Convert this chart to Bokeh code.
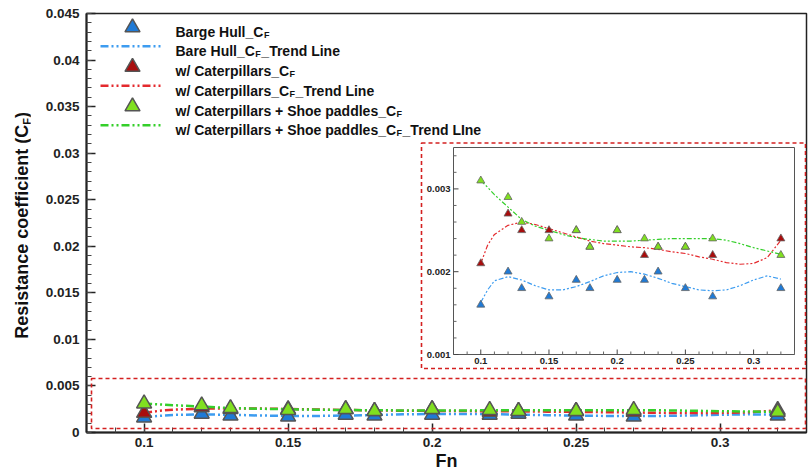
from bokeh.plotting import figure
from bokeh.layouts import row
from bokeh.models import Range1d, SingleIntervalTicker, CustomJSTickFormatter, BoxAnnotation, Div
from bokeh.core.properties import value
from bokeh.embed import file_html
from bokeh.resources import INLINE

# ---------------- data ----------------
fn = [0.10, 0.12, 0.13, 0.15, 0.17, 0.18, 0.20, 0.22, 0.23, 0.25, 0.27, 0.32]
cf_bare = [0.0016, 0.0020, 0.0018, 0.0017, 0.0019, 0.0018, 0.0019, 0.0019, 0.0020, 0.0018, 0.0017, 0.0018]
cf_cat = [0.0021, 0.0027, 0.0025, 0.0025, 0.0025, 0.0023, 0.0025, 0.0022, 0.0023, 0.0023, 0.0022, 0.0024]
cf_shoe = [0.0031, 0.0029, 0.0026, 0.0024, 0.0025, 0.0023, 0.0025, 0.0024, 0.0023, 0.0023, 0.0024, 0.0022]

trend_fn = [0.10, 0.105, 0.11, 0.12, 0.13, 0.14, 0.15, 0.16, 0.17, 0.18, 0.19, 0.20,
            0.21, 0.22, 0.23, 0.24, 0.25, 0.26, 0.27, 0.28, 0.29, 0.30, 0.31, 0.32]
trend_bare = [0.00163, 0.00178, 0.00189, 0.00194, 0.00190, 0.00183, 0.00178, 0.00178, 0.00182, 0.00188,
              0.00195, 0.00199, 0.00200, 0.00197, 0.00192, 0.00186, 0.00182, 0.00178, 0.00177, 0.00178,
              0.00183, 0.00190, 0.00195, 0.00191]
trend_cat = [0.00210, 0.00232, 0.00245, 0.00256, 0.00260, 0.00257, 0.00252, 0.00247, 0.00242, 0.00237,
             0.00234, 0.00232, 0.00230, 0.00229, 0.00227, 0.00224, 0.00222, 0.00218, 0.00215, 0.00211,
             0.00209, 0.00210, 0.00217, 0.00238]
trend_shoe = [0.00310, 0.00302, 0.00293, 0.00278, 0.00263, 0.00255, 0.00250, 0.00245, 0.00241, 0.00239,
              0.00237, 0.00237, 0.00237, 0.00238, 0.00239, 0.00240, 0.00240, 0.00240, 0.00240, 0.00238,
              0.00234, 0.00229, 0.00225, 0.00221]

legend_rows = [("Barge Hull_C", ""),
               ("Bare Hull_C", "_Trend Line"),
               ("w/ Caterpillars_C", ""),
               ("w/ Caterpillars_C", "_Trend Line"),
               ("w/ Caterpillars + Shoe paddles_C", ""),
               ("w/ Caterpillars + Shoe paddles_C", "_Trend LIne")]

inset_yticks = [0.001, 0.002, 0.003]
inset_ylabels = ["0.001", "0.002", "0.003"]
inset_xticks = [0.1, 0.15, 0.2, 0.25, 0.3]
inset_xlabels = ["0.1", "0.15", "0.2", "0.25", "0.3"]

# ---------------- styles ----------------
FONT = "Liberation Sans"
C_BLUE_M, C_RED_M, C_GREEN_M = "#1f7ad6", "#a80d0d", "#80e020"
C_BLUE_L, C_RED_L, C_GREEN_L = "#3d9cf0", "#e42a2e", "#34cf2a"
EDGE = "#555555"
DASH = "8 3 2 3 2 3"
DASH_IN = "5 2 2 2 2 2"

# Arial/Liberation Sans Bold advance widths (1/1000 em)
AW = {' ': 278, '/': 278, '+': 584, '_': 556, '(': 333, ')': 333, '.': 278,
      'A': 722, 'B': 722, 'C': 722, 'F': 611, 'H': 722, 'I': 278, 'L': 611, 'S': 667, 'T': 611,
      'a': 556, 'c': 556, 'd': 611, 'e': 556, 'g': 611, 'h': 611, 'i': 278, 'l': 278,
      'n': 611, 'o': 611, 'p': 611, 'r': 389, 's': 556, 't': 333, 'u': 611, 'w': 778}


def tw(s, size):
    return sum(AW.get(ch, 556) for ch in s) * size / 1000.0


# frame geometry (page pixels) and mapping helpers
LABEL_W = 30
X0, X1, Y0, Y1 = 0.08, 0.33, 0.0, 0.045
FL, FR, FT, FB = 86, 806, 13, 432


def dx(sx):
    return X0 + (sx - FL) * (X1 - X0) / (FR - FL)


def dy(sy):
    return Y0 + (FB - sy) * (Y1 - Y0) / (FB - FT)


# inset geometry
IX0, IX1, IY0, IY1 = 0.08, 0.33, 0.001, 0.0035
IL, IR, IT, IB = 453, 794, 147, 354
ixpp = (IX1 - IX0) / (IR - IL)
iypp = (IY1 - IY0) / (IB - IT)

p = figure(width=808 - LABEL_W, height=475, x_range=Range1d(X0, X1), y_range=Range1d(Y0, Y1),
           output_backend="svg", toolbar_location=None,
           min_border_left=FL - LABEL_W, min_border_right=808 - FR, min_border_top=FT,
           min_border_bottom=475 - FB)
p.extra_x_ranges = {"ix": Range1d(IX0 - (IL - FL) * ixpp, IX1 + (FR - IR) * ixpp)}
p.extra_y_ranges = {"iy": Range1d(IY0 - (FB - IB) * iypp, IY1 + (IT - FT) * iypp)}
p.grid.visible = False
p.outline_line_color = "#222222"
p.outline_line_width = 1.5
p.background_fill_color = "white"
p.border_fill_color = "white"

fmt = CustomJSTickFormatter(code=r"return tick.toFixed(3).replace(/0+$/,'').replace(/\.$/,'');")
p.xaxis.ticker = SingleIntervalTicker(interval=0.05, num_minor_ticks=5)
p.yaxis.ticker = SingleIntervalTicker(interval=0.005, num_minor_ticks=5)
for ax in (p.xaxis[0], p.yaxis[0]):
    ax.formatter = fmt
    ax.major_tick_in = 9
    ax.major_tick_out = 0
    ax.minor_tick_in = 5
    ax.minor_tick_out = 0
    ax.axis_line_width = 2
    ax.axis_line_color = "#222222"
    ax.major_tick_line_color = "#222222"
    ax.major_tick_line_width = 1.5
    ax.minor_tick_line_color = "#444444"
    ax.major_label_text_font = FONT
    ax.major_label_text_font_style = "bold"
    ax.major_label_text_font_size = "13.5px"
    ax.major_label_text_color = "#222222"
p.xaxis.major_label_standoff = 5
p.yaxis.major_label_standoff = 7
p.xaxis.axis_label = "Fn"
p.xaxis.axis_label_text_font = FONT
p.xaxis.axis_label_text_font_style = "bold"
p.xaxis.axis_label_text_font_size = "18px"
p.xaxis.axis_label_text_color = "#111111"
p.xaxis.axis_label_standoff = 1

# ---------------- main plot ----------------
for ty, col in ((trend_bare, C_BLUE_L), (trend_cat, C_RED_L), (trend_shoe, C_GREEN_L)):
    p.line(trend_fn, ty, line_color=col, line_width=2.5, line_dash=DASH)
for cy, col in ((cf_bare, C_BLUE_M), (cf_cat, C_RED_M), (cf_shoe, C_GREEN_M)):
    p.scatter(fn, cy, marker="triangle", size=15, fill_color=col, line_color=EDGE, line_width=1.5)

# ---------------- legend ----------------
row_base = [31 + i * 19.75 for i in range(6)]
for i, (before, after) in enumerate(legend_rows):
    yb = row_base[i]
    if i % 2 == 0:
        col = [C_BLUE_M, C_RED_M, C_GREEN_M][i // 2]
        p.scatter([dx(132)], [dy(yb - 4)], marker="triangle", size=15, fill_color=col,
                  line_color=EDGE, line_width=1.5)
    else:
        col = [C_BLUE_L, C_RED_L, C_GREEN_L][i // 2]
        p.line([dx(100), dx(163)], [dy(yb - 5)] * 2, line_color=col, line_width=2.5, line_dash=DASH)
    x_sub = 175 + tw(before, 14) + 0.5
    p.text([dx(175)], [dy(yb)], text=[before], text_font=value(FONT), text_font_style="bold",
           text_font_size="14px", text_color="#111111", text_baseline="alphabetic", text_align="left")
    p.text([dx(x_sub)], [dy(yb + 3)], text=["F"], text_font=value(FONT), text_font_style="bold",
           text_font_size="9px", text_color="#111111", text_baseline="alphabetic", text_align="left")
    if after:
        p.text([dx(x_sub + tw("F", 9) + 0.5)], [dy(yb)], text=[after], text_font=value(FONT),
               text_font_style="bold", text_font_size="14px", text_color="#111111",
               text_baseline="alphabetic", text_align="left")

# ---------------- inset ----------------
p.quad(left=[IX0], right=[IX1], bottom=[IY0], top=[IY1], x_range_name="ix", y_range_name="iy",
       fill_color="white", line_color="#555555", line_width=1)

mx, my = [], []
for k in range(9, 34):
    v = k / 100.0
    if all(abs(v - t) > 1e-9 for t in inset_xticks):
        mx.append(v)
for k in range(5, 18):
    v = k * 0.0002
    if all(abs(v - t) > 1e-9 for t in inset_yticks) and IY0 < v < IY1:
        my.append(v)
p.segment(x0=inset_xticks, y0=[IY0] * len(inset_xticks), x1=inset_xticks,
          y1=[IY0 + 5 * iypp] * len(inset_xticks), x_range_name="ix", y_range_name="iy",
          line_color="#444444", line_width=1)
p.segment(x0=mx, y0=[IY0] * len(mx), x1=mx, y1=[IY0 + 3 * iypp] * len(mx),
          x_range_name="ix", y_range_name="iy", line_color="#666666", line_width=1)
p.segment(x0=[IX0] * len(inset_yticks), y0=inset_yticks, x1=[IX0 + 5 * ixpp] * len(inset_yticks),
          y1=inset_yticks, x_range_name="ix", y_range_name="iy", line_color="#444444", line_width=1)
p.segment(x0=[IX0] * len(my), y0=my, x1=[IX0 + 3 * ixpp] * len(my), y1=my,
          x_range_name="ix", y_range_name="iy", line_color="#666666", line_width=1)
p.text([IX0 - 3 * ixpp] * len(inset_yticks), inset_yticks, text=inset_ylabels,
       x_range_name="ix", y_range_name="iy", text_font=value(FONT), text_font_style="bold",
       text_font_size="9.5px", text_color="#222222", text_align="right", text_baseline="middle")
p.text(inset_xticks, [IY0 - 3 * iypp] * len(inset_xticks), text=inset_xlabels,
       x_range_name="ix", y_range_name="iy", text_font=value(FONT), text_font_style="bold",
       text_font_size="9.5px", text_color="#222222", text_align="center", text_baseline="top")

for ty, col in ((trend_bare, C_BLUE_L), (trend_cat, C_RED_L), (trend_shoe, C_GREEN_L)):
    p.line(trend_fn, ty, x_range_name="ix", y_range_name="iy", line_color=col,
           line_width=1.2, line_dash=DASH_IN)
for cy, col in ((cf_bare, C_BLUE_M), (cf_cat, C_RED_M), (cf_shoe, C_GREEN_M)):
    p.scatter(fn, cy, x_range_name="ix", y_range_name="iy", marker="triangle", size=8,
              fill_color=col, line_color="#666666", line_width=0.8)

# ---------------- highlight boxes ----------------
for (l, r, t, b) in ((91, 805, 378, 428), (421, 805, 142.5, 368)):
    p.add_layout(BoxAnnotation(left=dx(l), right=dx(r), top=dy(t), bottom=dy(b),
                               fill_alpha=0, line_color="#d42020", line_alpha=1.0,
                               line_width=1.6, line_dash="4 3"))

# ---------------- y-axis title (HTML text, with subscript) ----------------
ylab_html = (
    '<div style="position:relative;width:%dpx;height:475px;margin:0;padding:0;">'
    '<span style="position:absolute;left:13px;top:112px;writing-mode:vertical-rl;'
    'transform:rotate(180deg);white-space:nowrap;font-family:\'Liberation Sans\',Arial,sans-serif;'
    'font-weight:bold;font-size:18px;line-height:18px;color:#111111;">'
    'Resistance coefficient (C<sub style="font-size:11px;line-height:0;">F</sub>)</span></div>'
    % LABEL_W
)
ylab = Div(text=ylab_html, width=LABEL_W, height=475, margin=0)

layout = row(ylab, p, spacing=0)
open("out.html", "w").write(file_html(layout, INLINE))
